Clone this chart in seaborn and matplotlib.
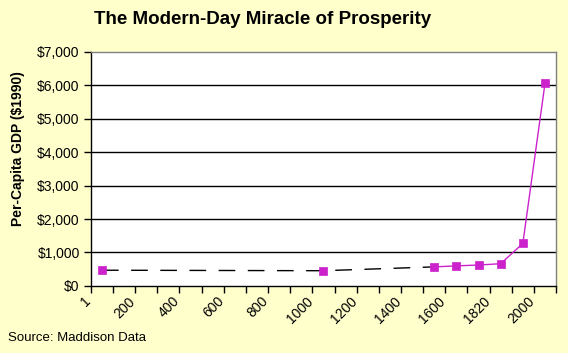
import numpy as np
import pandas as pd
import seaborn as sns
import matplotlib.pyplot as plt
from matplotlib.ticker import FixedLocator, FuncFormatter
from matplotlib.transforms import ScaledTranslation

# categories on the x axis (Excel-style category axis)
years = [1, 100, 200, 300, 400, 500, 600, 700, 800, 900, 1000, 1100, 1200,
         1300, 1400, 1500, 1600, 1700, 1820, 1900, 2000]
gdp = [470, np.nan, np.nan, np.nan, np.nan, np.nan, np.nan, np.nan, np.nan,
       np.nan, 455, np.nan, np.nan, np.nan, np.nan, 570, 600, 625, 665,
       1270, 6060]
# early observations joined by the dashed guide line
dashed_years = [1, 1000, 1500]
label_years = [1, 200, 400, 600, 800, 1000, 1200, 1400, 1600, 1820, 2000]

df = pd.DataFrame({"year": years, "gdp": gdp})
df["pos"] = range(len(df))
obs = df.dropna()
modern = obs[obs["year"] >= 1500]
early = df[df["year"].isin(dashed_years)]

bg = "#FFFFCC"
mag = "#CC22CC"

sns.set_style("white")
plt.rcParams["font.family"] = ["Liberation Sans", "DejaVu Sans"]
plt.rcParams["text.color"] = "black"
plt.rcParams["xtick.color"] = "black"
plt.rcParams["ytick.color"] = "black"

fig = plt.figure(figsize=(5.68, 3.53), dpi=100, facecolor=bg)
ax = fig.add_axes([0.160, 0.190, 0.819, 0.663])
ax.set_facecolor("white")

# horizontal gridlines
for v in range(1000, 7000, 1000):
    ax.axhline(v, color="black", lw=1, zorder=1)

sns.lineplot(data=early, x="pos", y="gdp", ax=ax, color="black", lw=1,
             zorder=2).lines[-1].set_dashes((12, 9))
sns.lineplot(data=modern, x="pos", y="gdp", ax=ax, color=mag, lw=1, zorder=3)
sns.scatterplot(data=obs, x="pos", y="gdp", ax=ax, marker="s", s=32,
                color=mag, edgecolor=mag, linewidth=0.5, zorder=4)

ax.set_xlim(-0.5, len(years) - 0.5)
ax.set_ylim(0, 7000)
ax.set_yticks(range(0, 7001, 1000))
ax.yaxis.set_major_formatter(FuncFormatter(lambda v, p: "${:,.0f}".format(v)))
ax.tick_params(axis="y", direction="out", length=5, width=1, color="black",
               labelsize=10, pad=3, left=True, labelcolor="black")

label_pos = [years.index(y) for y in label_years]
ax.xaxis.set_major_locator(FixedLocator(label_pos))
ax.set_xticklabels([str(y) for y in label_years], rotation=45, ha="right")
ax.xaxis.set_minor_locator(FixedLocator(np.arange(-0.5, len(years), 1.0)))
ax.tick_params(axis="x", which="major", length=0, labelsize=10, pad=6,
               labelcolor="black")
ax.tick_params(axis="x", which="minor", direction="out", length=5, width=1,
               color="black", bottom=True)
shift = ScaledTranslation(-0.08, 0, fig.dpi_scale_trans)
for lab in ax.get_xticklabels():
    lab.set_transform(lab.get_transform() + shift)

ax.set_xlabel("")
ax.set_ylabel("")
for side in ["left", "bottom"]:
    ax.spines[side].set_color("black")
    ax.spines[side].set_linewidth(1)
for side in ["top", "right"]:
    ax.spines[side].set_color("#808080")
    ax.spines[side].set_linewidth(1)

fig.text(0.462, 0.945, "The Modern-Day Miracle of Prosperity", ha="center",
         va="center", fontsize=13.5, fontweight="bold")
fig.text(0.032, 0.578, "Per-Capita GDP ($1990)", rotation=90, ha="center",
         va="center", fontsize=10, fontweight="bold")
fig.text(0.014, 0.043, "Source: Maddison Data", ha="left", va="center",
         fontsize=9.5)

fig.savefig("out.png", dpi=100, facecolor=bg)
